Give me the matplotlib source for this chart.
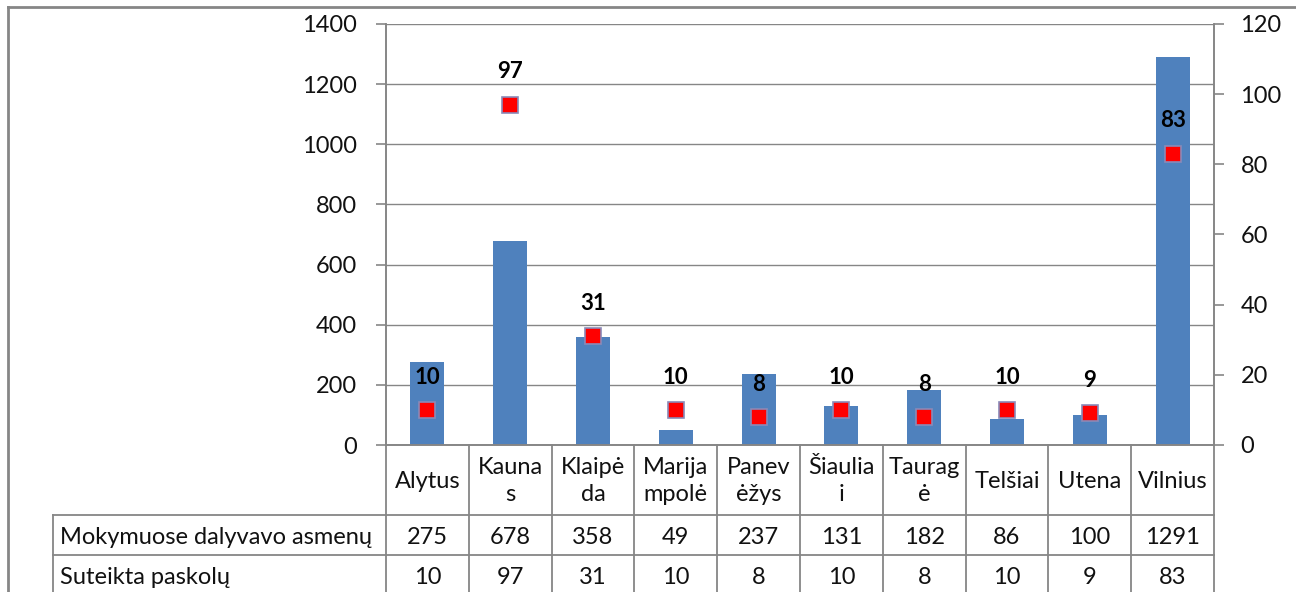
import numpy as np
import matplotlib
matplotlib.use("Agg")
import matplotlib.pyplot as plt
from matplotlib.lines import Line2D
from matplotlib.transforms import blended_transform_factory

plt.rcParams['font.family'] = ['Lato', 'DejaVu Sans']

# data
categories = ["Alytus", "Kauna\ns", "Klaipė\nda", "Marija\nmpolė", "Panev\nėžys",
              "Šiaulia\ni", "Taurag\nė", "Telšiai", "Utena", "Vilnius"]
participants = [275, 678, 358, 49, 237, 131, 182, 86, 100, 1291]
loans = [10, 97, 31, 10, 8, 10, 8, 10, 9, 83]
row_labels = ["Mokymuose dalyvavo asmenų", "Suteikta paskolų"]
left_ticks = [0, 200, 400, 600, 800, 1000, 1200, 1400]
right_ticks = [0, 20, 40, 60, 80, 100, 120]

W, H = 1296, 592
GRAY = '#868686'
fig = plt.figure(figsize=(W / 100, H / 100), dpi=100)

def fy(py):
    return 1 - py / H

def fx(px):
    return px / W

ax_l, ax_r, ax_t, ax_b = 386, 1214, 24, 445
ax = fig.add_axes([fx(ax_l), fy(ax_b), (ax_r - ax_l) / W, (ax_b - ax_t) / H])
ax2 = ax.twinx()

x = np.arange(len(categories))
ax.bar(x, participants, width=0.41, color='#4F81BD', zorder=2)
ax.set_xlim(-0.5, len(categories) - 0.5)
ax.set_ylim(0, 1400)
ax.set_yticks(left_ticks)
ax.set_xticks([])
ax.grid(axis='y', color=GRAY, lw=1, zorder=0)
ax.set_axisbelow(True)

ax2.plot(x, loans, ls='none', marker='s', markersize=11.5, markerfacecolor='#FF0000',
         markeredgecolor='#8A8AB8', markeredgewidth=1.2, zorder=3)
ax2.set_ylim(0, 120)
ax2.set_yticks(right_ticks)
for xi, v in zip(x, loans):
    ax2.annotate(str(v), (xi, v), xytext=(0, 19), textcoords='offset points',
                 ha='center', va='baseline', fontsize=16, fontweight='bold', color='black')

for a in (ax, ax2):
    a.spines['top'].set_visible(False)
    for s in ['left', 'right', 'bottom']:
        a.spines[s].set_color(GRAY)
        a.spines[s].set_linewidth(1.2)
    a.tick_params(axis='y', colors=GRAY, labelcolor='#111111', labelsize=17, length=7, width=1.2, direction='out')
ax.tick_params(axis='y', pad=14)
ax2.tick_params(axis='y', pad=12)

# data table under the chart
tr = blended_transform_factory(ax.transData, fig.transFigure)
row_y = [445, 515, 555, 595]
lkw = dict(color=GRAY, lw=1.3, clip_on=False)
for b in np.arange(len(categories) + 1) - 0.5:
    ax.add_line(Line2D([b, b], [fy(445), fy(600)], transform=tr, **lkw))
for py in row_y[1:3]:
    fig.add_artist(Line2D([fx(53), fx(ax_r)], [fy(py), fy(py)], transform=fig.transFigure, **lkw))
fig.add_artist(Line2D([fx(53), fx(53)], [fy(515), fy(600)], transform=fig.transFigure, **lkw))

for xi, c in zip(x, categories):
    ax.text(xi, fy(481), c, transform=tr, ha='center', va='center', fontsize=17,
            linespacing=1.4, color='#111111', clip_on=False)
for r, (lab, vals) in enumerate(zip(row_labels, [participants, loans])):
    yc = fy((row_y[r + 1] + row_y[r + 2]) / 2 + 2)
    fig.text(fx(60), yc, lab, ha='left', va='center', fontsize=17, color='#111111')
    for xi, v in zip(x, vals):
        ax.text(xi, yc, str(v), transform=tr, ha='center', va='center', fontsize=17,
                color='#111111', clip_on=False)

# outer chart frame
fig.add_artist(Line2D([fx(8), fx(8)], [fy(7), 0], transform=fig.transFigure, color=GRAY, lw=2))
fig.add_artist(Line2D([fx(8), 1], [fy(7), fy(7)], transform=fig.transFigure, color=GRAY, lw=2))

fig.savefig("out.png", dpi=100)
